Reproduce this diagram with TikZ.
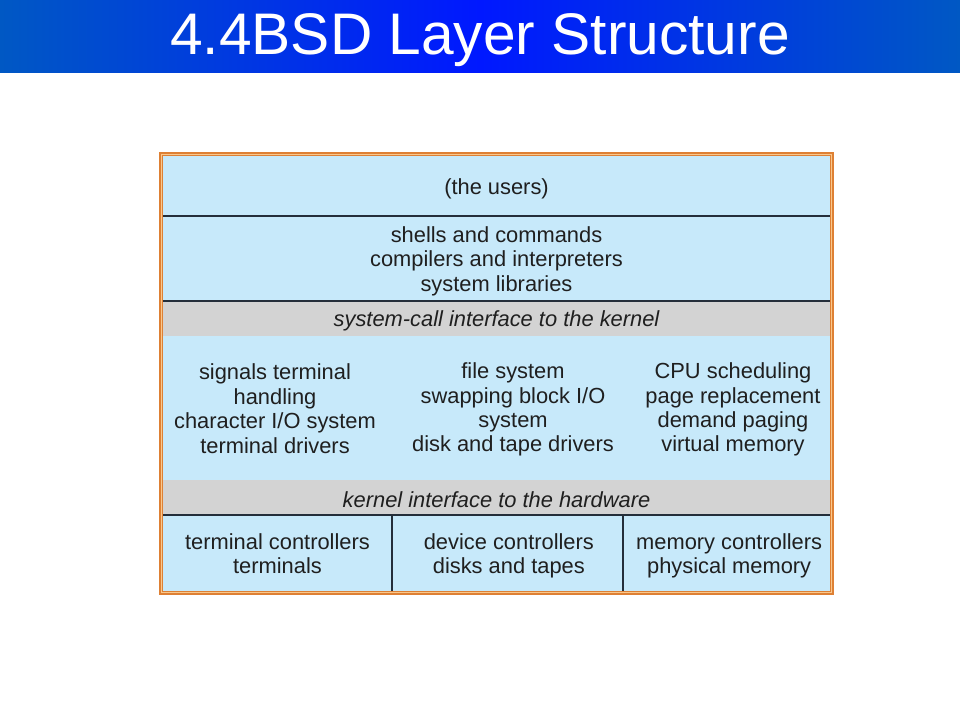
\documentclass[tikz,border=0pt]{standalone}
\usepackage{fontspec}
\setmainfont{Liberation Sans}
\usetikzlibrary{positioning}
\definecolor{barblue}{RGB}{0,88,196}
\definecolor{barbright}{RGB}{0,24,255}
\definecolor{layerblue}{RGB}{199,233,250}
\definecolor{layergray}{RGB}{211,211,211}
\definecolor{rimorange}{RGB}{222,128,52}
\definecolor{rimlight}{RGB}{250,200,140}
\definecolor{rule}{RGB}{36,46,58}
\begin{document}
\begin{tikzpicture}[
    x=0.75pt, y=-0.75pt,
    every node/.style={align=center, inner sep=0pt, outer sep=0pt,
      font=\fontsize{16.4pt}{18.3pt}\selectfont, text=black!88},
    layer/.style={fill=layerblue, minimum width=500.25pt},
    iface/.style={fill=layergray, minimum width=500.25pt, minimum height=26.25pt},
    cell/.style={fill=layerblue, minimum height=57pt},
    lbl/.style={yshift=-2pt},
    divider/.style={draw=rule, line width=1.1pt}
  ]
  \fill[white] (0,0) rectangle (960,720);
  \shade[left color=barblue, right color=barblue, middle color=barbright] (0,0) rectangle (960,73);
  \node[anchor=base, text=white, font=\fontsize{44pt}{50pt}\selectfont] (title) at (480,55) {4.4BSD Layer Structure};

  \draw[draw=rimorange, fill=rimlight, line width=1.5pt] (160,153) rectangle (833,594);
  \draw[draw=rimorange, line width=0.6pt] (162.5,155.5) rectangle (830.5,591.5);

  % layers
  \node[layer, minimum height=45pt] (users) at (496.5,186) {};
  \node[layer, minimum height=63.75pt, below=0pt of users] (shells) {};
  \node[iface, below=0pt of shells] (syscall) {};
  \node[layer, minimum height=108pt, below=0pt of syscall] (kernel) {};
  \node[iface, below=0pt of kernel] (hwif) {};
  \node[cell, minimum width=171.75pt, anchor=north west] (termctl) at (hwif.south west) {};
  \node[cell, minimum width=173.25pt, right=0pt of termctl] (devctl) {};
  \node[cell, minimum width=155.25pt, right=0pt of devctl] (memctl) {};

  % texts
  \node[lbl] (userstext) at (users.center) {(the users)};
  \node[lbl] (shellstext) at (shells.center) {shells and commands\\compilers and interpreters\\system libraries};
  \node[lbl, font=\fontsize{16.4pt}{18.3pt}\selectfont\itshape] (syscalltext) at (syscall.center)
    {system-call interface to the kernel};
  \node[lbl, yshift=1.5pt] (signals) at (275,408) {signals terminal\\handling\\character I/O system\\terminal drivers};
  \node[lbl, yshift=0.75pt] (files) at (513,408) {file system\\swapping block I/O\\system\\disk and tape drivers};
  \node[lbl, yshift=0.75pt] (memory) at (733,408) {CPU scheduling\\page replacement\\demand paging\\virtual memory};
  \node[lbl, font=\fontsize{16.4pt}{18.3pt}\selectfont\itshape] (hwiftext) at (hwif.center)
    {kernel interface to the hardware};
  \node[lbl, yshift=1.5pt] (termtext) at (termctl.center) {terminal controllers\\terminals};
  \node[lbl, xshift=1pt] (devtext) at (devctl.center) {device controllers\\disks and tapes};
  \node[lbl, xshift=2pt] (memtext) at (memctl.center) {memory controllers\\physical memory};

  \draw[divider] (users.south west) -- (users.south east);
  \draw[divider] (shells.south west) -- (shells.south east);
  \draw[divider] (hwif.south west) -- (hwif.south east);
  \draw[divider] (termctl.north east) -- (termctl.south east);
  \draw[divider] (devctl.north east) -- (devctl.south east);
\end{tikzpicture}
\end{document}
